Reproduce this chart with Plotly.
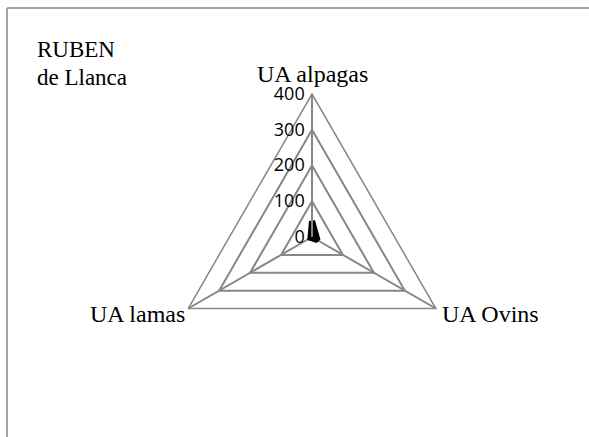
import math
import plotly.graph_objects as go

categories = ["UA alpagas", "UA Ovins", "UA lamas"]
values = [45, 18, 5]
radial_ticks = [0, 100, 200, 300, 400]
title_lines = ["RUBEN", "de Llanca"]

W, H = 589, 437
cx, cy, R = 312, 237, 143

fig = go.Figure()
fig.add_trace(go.Scatterpolar(
    r=values + values[:1],
    theta=categories + categories[:1],
    mode="lines",
    fill="toself",
    fillcolor="black",
    line=dict(color="black", width=6),
    showlegend=False,
    hoverinfo="skip",
))

serif = dict(family="Liberation Serif, serif", size=24, color="black")


def px(x):
    return x / W


def py(y):
    return 1 - y / H


# category label anchors derived from the polar geometry
lab_ann = []
for cat, ang in zip(categories, [90, -30, 210]):
    vx = cx + R * math.cos(math.radians(ang))
    vy = cy - R * math.sin(math.radians(ang))
    if ang == 90:
        lab_ann.append(dict(text=cat, x=px(vx), y=py(vy - 20), xanchor="center", yanchor="middle"))
    elif ang == -30:
        lab_ann.append(dict(text=cat, x=px(vx + 4), y=py(vy + 5), xanchor="left", yanchor="middle"))
    else:
        lab_ann.append(dict(text=cat, x=px(vx - 1), y=py(vy + 5), xanchor="right", yanchor="middle"))
for a in lab_ann:
    a.update(xref="paper", yref="paper", showarrow=False, font=serif)

title_font = dict(family="Liberation Serif, serif", size=23, color="black")

fig.update_layout(
    width=W, height=H,
    margin=dict(l=0, r=0, t=0, b=0),
    paper_bgcolor="white",
    plot_bgcolor="white",
    showlegend=False,
    polar=dict(
        domain=dict(x=[(cx - R) / W, (cx + R) / W],
                    y=[(H - cy - R) / H, (H - cy + R) / H]),
        bgcolor="white",
        gridshape="linear",
        radialaxis=dict(
            range=[0, 400],
            tickvals=radial_ticks,
            ticktext=[str(v) for v in radial_ticks],
            angle=90,
            tickangle=90,
            side="counterclockwise",
            showline=True,
            linecolor="#878787",
            linewidth=2,
            gridcolor="#878787",
            gridwidth=1.5,
            ticks="",
            tickfont=dict(family="Open Sans, DejaVu Sans, sans-serif", size=18, color="black"),
        ),
        angularaxis=dict(
            direction="clockwise",
            rotation=90,
            showline=True,
            linecolor="#878787",
            linewidth=1.5,
            gridcolor="#878787",
            gridwidth=1.5,
            ticks="",
            showticklabels=False,
        ),
    ),
    shapes=[
        dict(type="line", xref="paper", yref="paper",
             x0=7 / W, x1=1, y0=1 - 8 / H, y1=1 - 8 / H,
             line=dict(color="#878787", width=1.5)),
        dict(type="line", xref="paper", yref="paper",
             x0=7 / W, x1=7 / W, y0=0, y1=1 - 8 / H,
             line=dict(color="#878787", width=1.5)),
    ],
    annotations=[
        dict(text=title_lines[0], xref="paper", yref="paper",
             x=35 / W, y=1 - 35 / H, xanchor="left", yanchor="top",
             align="left", showarrow=False, font=title_font),
        dict(text=title_lines[1], xref="paper", yref="paper",
             x=35 / W, y=1 - 63 / H, xanchor="left", yanchor="top",
             align="left", showarrow=False, font=title_font),
    ] + lab_ann,
)

fig.write_html("out.html", config={"displayModeBar": False},
               post_script="document.body.style.margin='0';document.body.style.overflow='hidden';")
